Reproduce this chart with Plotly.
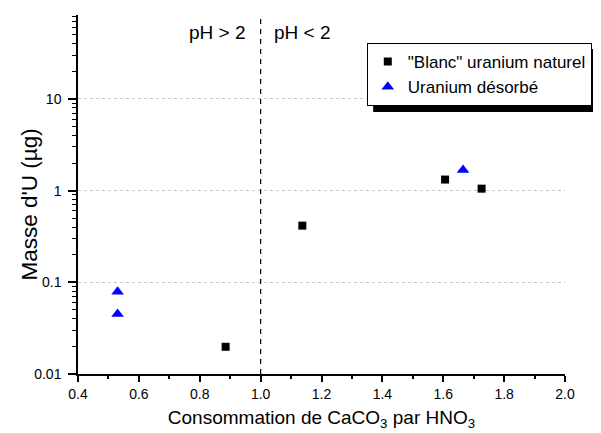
import plotly.graph_objects as go

# Data
blanc_x = [0.885, 1.137, 1.606, 1.726]
blanc_y = [0.0198, 0.415, 1.32, 1.05]
desorbe_x = [0.530, 0.530, 1.665]
desorbe_y = [0.079, 0.045, 1.68]

x_ticks = [0.4, 0.6, 0.8, 1.0, 1.2, 1.4, 1.6, 1.8, 2.0]
y_tickvals = [0.01, 0.1, 1, 10]
y_ticktext = ["0.01", "0.1", "1", "10"]
ph_threshold = 1.0

FONT = "Arial, 'Liberation Sans', sans-serif"

fig = go.Figure()
fig.add_trace(go.Scatter(
    x=blanc_x, y=blanc_y, mode="markers", name='"Blanc" uranium naturel',
    marker=dict(symbol="square", size=8, color="black"),
))
fig.add_trace(go.Scatter(
    x=desorbe_x, y=desorbe_y, mode="markers", name="Uranium désorbé",
    marker=dict(symbol="triangle-up", size=11, color="#0000ff"),
))

minor_y = [m * 10 ** e for e in range(-2, 2) for m in range(2, 10)]

# page body has an 8px margin, so the figure is sized to fit the window
fig.update_layout(
    width=593, height=425,
    margin=dict(l=70, r=36, t=7, b=59),
    paper_bgcolor="white", plot_bgcolor="white",
    font=dict(family=FONT, size=14, color="black"),
    showlegend=True,
    legend=dict(
        x=0.593, y=0.922, xanchor="left", yanchor="top",
        bgcolor="white", bordercolor="black", borderwidth=1,
        font=dict(size=17, family=FONT), itemsizing="trace",
    ),
    xaxis=dict(
        range=[0.4, 2.0], tickvals=x_ticks, ticktext=[f"{v:.1f}" for v in x_ticks],
        automargin=False,
        showline=True, linecolor="black", linewidth=1.5, mirror=False,
        ticks="outside", ticklen=6, tickwidth=1.5, tickcolor="black",
        minor=dict(dtick=0.1, ticks="outside", ticklen=3, tickwidth=1.5, tickcolor="black", showgrid=False),
        showgrid=False, zeroline=False,
        tickfont=dict(size=14),
        title=dict(text="Consommation de CaCO<sub>3</sub> par HNO<sub>3</sub>", font=dict(size=19), standoff=10),
    ),
    yaxis=dict(
        type="log", range=[-2, 1.915], tickvals=y_tickvals, ticktext=y_ticktext,
        automargin=False,
        showline=True, linecolor="black", linewidth=1.5,
        ticks="outside", ticklen=8, tickwidth=1.5, tickcolor="black",
        ticklabelstandoff=4,
        minor=dict(tickmode="array", tickvals=minor_y, ticks="outside", ticklen=4,
                   tickwidth=1, tickcolor="black", showgrid=False),
        showgrid=True, gridcolor="#c8c8c8", griddash="dot", gridwidth=1,
        zeroline=False, tickfont=dict(size=14),
    ),
)

# y-axis title (placed as rotated text to match the reference position)
fig.add_annotation(x=0, y=0.472, xref="paper", yref="paper", text="Masse d'U (µg)",
                   textangle=-90, showarrow=False, xanchor="center", yanchor="middle",
                   xshift=-48, font=dict(size=22.5))

fig.add_shape(type="line", xref="x", yref="paper", x0=ph_threshold, x1=ph_threshold,
              y0=0, y1=1, line=dict(color="black", width=1.2, dash="5px,5px"))

fig.add_annotation(x=ph_threshold, y=0.95, xref="x", yref="paper", text="pH > 2",
                   showarrow=False, xanchor="right", yanchor="middle", xshift=-13, font=dict(size=19))
fig.add_annotation(x=ph_threshold, y=0.95, xref="x", yref="paper", text="pH < 2",
                   showarrow=False, xanchor="left", yanchor="middle", xshift=11, font=dict(size=19))

# legend drop shadow
fig.add_shape(type="rect", xref="paper", yref="paper",
              x0=0.606, x1=1.066, y0=0.730, y1=0.905,
              fillcolor="black", line=dict(width=0), layer="above")

fig.write_html("out.html")
